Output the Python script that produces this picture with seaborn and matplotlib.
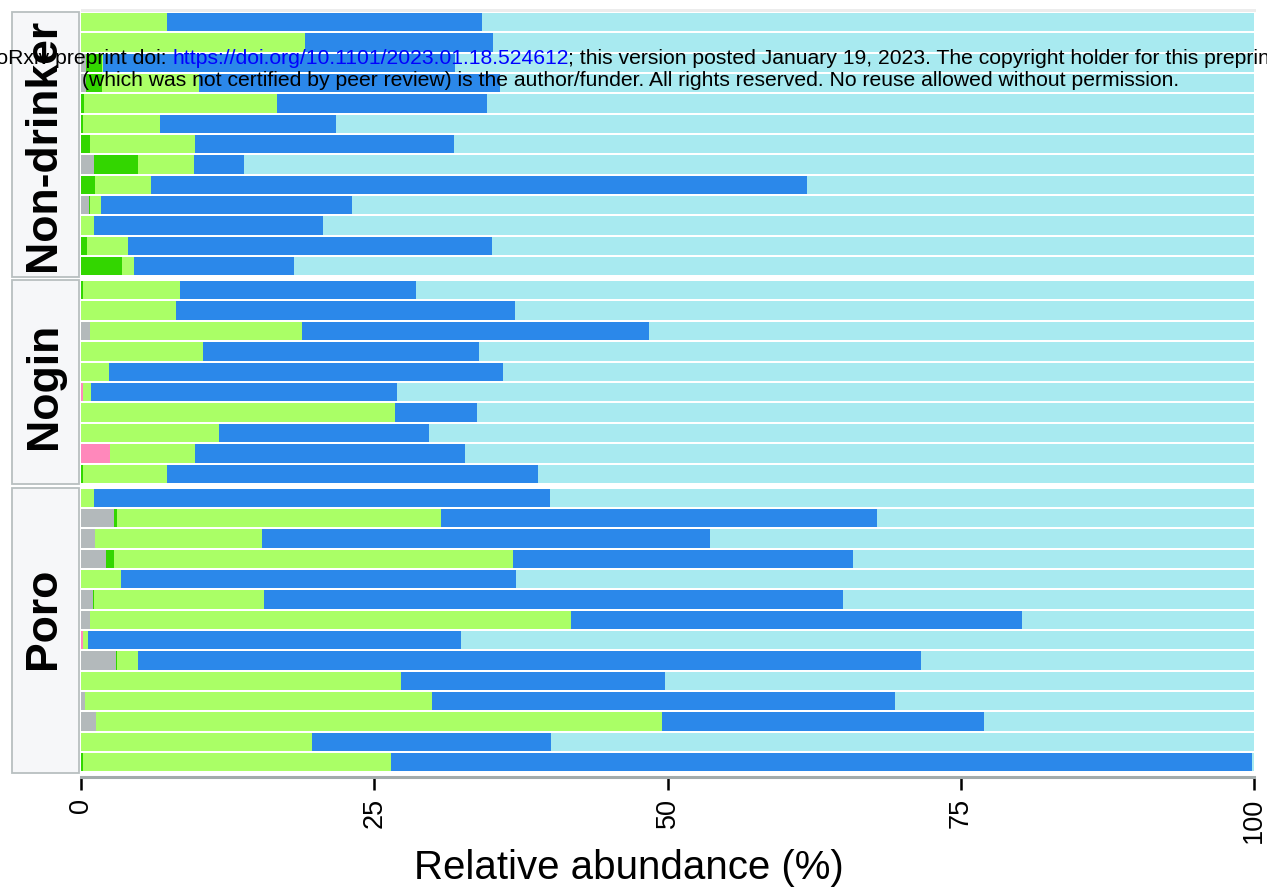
import numpy as np
import pandas as pd
import matplotlib
matplotlib.use("Agg")
import matplotlib.pyplot as plt
from matplotlib.patches import Rectangle
import seaborn as sns

sns.set_style("white")
plt.rcParams["font.family"] = ["Liberation Sans", "DejaVu Sans"]

# ---- data: relative abundance (%) per sample, stacked left to right ----
taxa = ["Other", "Taxon E", "Taxon D", "Taxon C", "Taxon B", "Taxon A"]
taxon_colors = ["#b3b9bb", "#ff88bb", "#33d600", "#aaff66", "#2b88ea", "#a8eaf0"]
groups = ["Non-drinker", "Nogin", "Poro"]

nd_other = [0, 0, 0.4, 0.4, 0, 0, 0, 1.1, 0, 0.65, 0, 0, 0]
nd_e     = [0, 0, 0, 0, 0, 0, 0, 0, 0, 0, 0, 0, 0]
nd_d     = [0, 0, 1.4, 1.4, 0.25, 0.15, 0.8, 3.8, 1.2, 0.15, 0, 0.5, 3.5]
nd_c     = [7.3, 19.1, 0.1, 8.3, 16.45, 6.55, 8.9, 4.7, 4.8, 0.9, 1.1, 3.5, 1.0]
nd_b     = [26.9, 16.0, 30.0, 25.6, 17.9, 15.0, 22.1, 4.3, 55.9, 21.4, 19.5, 31.0, 13.7]
nd_a     = [65.8, 64.9, 68.1, 64.3, 65.4, 78.3, 68.2, 86.1, 38.1, 76.9, 79.4, 65.0, 81.8]

ng_other = [0, 0, 0.8, 0, 0, 0, 0, 0, 0, 0]
ng_e     = [0, 0, 0, 0, 0, 0.15, 0, 0, 2.5, 0]
ng_d     = [0.2, 0, 0, 0, 0, 0, 0, 0, 0, 0.2]
ng_c     = [8.2, 8.1, 18.0, 10.4, 2.4, 0.7, 26.8, 11.8, 7.2, 7.1]
ng_b     = [20.2, 28.9, 29.6, 23.5, 33.6, 26.05, 7.0, 17.9, 23.0, 31.7]
ng_a     = [71.4, 63.0, 51.6, 66.1, 64.0, 73.1, 66.2, 70.3, 67.3, 61.0]

po_other = [0, 2.8, 1.2, 2.1, 0, 1.0, 0.75, 0, 3.0, 0, 0.3, 1.25, 0, 0]
po_e     = [0, 0, 0, 0, 0, 0, 0, 0.2, 0, 0, 0, 0, 0, 0]
po_d     = [0, 0.25, 0, 0.7, 0, 0.1, 0, 0, 0.1, 0, 0, 0, 0, 0.2]
po_c     = [1.1, 27.65, 14.2, 34.0, 3.45, 14.5, 41.05, 0.4, 1.8, 27.3, 29.6, 48.25, 19.7, 26.2]
po_b     = [38.9, 37.2, 38.2, 29.0, 33.65, 49.4, 38.4, 31.8, 66.7, 22.5, 39.5, 27.5, 20.4, 73.4]
po_a     = [60.0, 32.1, 46.4, 34.2, 62.9, 35.0, 19.8, 67.6, 28.4, 50.2, 30.6, 23.0, 59.9, 0.2]

group_data = {
    "Non-drinker": [nd_other, nd_e, nd_d, nd_c, nd_b, nd_a],
    "Nogin": [ng_other, ng_e, ng_d, ng_c, ng_b, ng_a],
    "Poro": [po_other, po_e, po_d, po_c, po_b, po_a],
}
x_ticks = [0, 25, 50, 75, 100]

# long table
rows = []
for g in groups:
    for t, vals in zip(taxa, group_data[g]):
        for i, v in enumerate(vals):
            rows.append({"group": g, "sample": f"{g[:2]}{i + 1:02d}", "taxon": t, "pct": v})
df = pd.DataFrame(rows)

# ---- figure layout (pixels) ----
W, H = 1267, 894
fig = plt.figure(figsize=(W / 100, H / 100), dpi=100)
fig.patch.set_facecolor("white")


def fx(px):
    return px / W


def fy(py):
    return 1 - py / H


LEFT, RIGHT = 81.0, 1254.0
bounds = {"Non-drinker": (12.0, 276.5), "Nogin": (280.0, 484.0), "Poro": (487.5, 772.5)}
strip_label_y = {"Non-drinker": 145.0, "Nogin": 386.0, "Poro": 618.0}

# thin grey band above the first panel
fig.add_artist(Rectangle((fx(LEFT), fy(12.0)), fx(1256) - fx(LEFT), 2.5 / H,
                         transform=fig.transFigure, facecolor="#ececec",
                         edgecolor="none", zorder=0))

for g in groups:
    top, bot = bounds[g]
    ax = fig.add_axes([fx(LEFT), fy(bot), fx(RIGHT) - fx(LEFT), (bot - top) / H])
    ax.set_facecolor("white")
    sub = df[df["group"] == g]
    wide = sub.pivot(index="sample", columns="taxon", values="pct")[taxa]
    samples = list(dict.fromkeys(sub["sample"]))
    wide = wide.loc[samples]
    cum = wide.cumsum(axis=1)
    # draw cumulative ends from the outermost layer inward
    for k in reversed(range(len(taxa))):
        layer = pd.DataFrame({"sample": samples, "end": cum[taxa[k]].values})
        sns.barplot(data=layer, x="end", y="sample", order=samples, orient="y",
                    color=taxon_colors[k], saturation=1, width=0.9,
                    errorbar=None, edgecolor="none", linewidth=0, ax=ax)
    n = len(samples)
    ax.set_xlim(0, 100)
    ax.set_ylim(n - 0.5, -0.5)
    ax.set_xlabel("")
    ax.set_ylabel("")
    ax.set_yticks([])
    for s in ax.spines.values():
        s.set_visible(False)
    if g == groups[-1]:
        # spine position first: moving a spine resets the ticks
        ax.spines["bottom"].set_position(("outward", 3))
        ax.spines["bottom"].set_visible(True)
        ax.spines["bottom"].set_color("#a3abab")
        ax.spines["bottom"].set_linewidth(2.2)
        ax.set_xticks(x_ticks)
        ax.set_xticklabels([str(t) for t in x_ticks])
        ax.tick_params(axis="x", length=9.5, width=1.8, color="black", pad=6,
                       labelcolor="black", labelsize=19.5, bottom=True,
                       labelrotation=90)
        for lab in ax.get_xticklabels():
            lab.set_va("top")
            lab.set_ha("center")
    else:
        ax.set_xticks([])

    # facet strip on the left
    fig.add_artist(Rectangle((fx(12), fy(bot)), fx(79) - fx(12), (bot - top) / H,
                             transform=fig.transFigure, facecolor="#f6f7f9",
                             edgecolor="#b8bfc0", linewidth=1.3))
    fig.text(fx(44), fy(strip_label_y[g]), g, rotation=90, ha="center", va="center",
             fontsize=32, fontweight="bold", color="black")

fig.text(fx(629), fy(868), "Relative abundance (%)", ha="center", va="center",
         fontsize=29, color="black")

# preprint header lines
renderer = fig.canvas.get_renderer()
line2 = ("(which was not certified by peer review) is the author/funder. "
         "All rights reserved. No reuse allowed without permission.")
t2 = fig.text(fx(631), fy(86), line2, ha="center", va="baseline", fontsize=14,
              color="black")
w2 = t2.get_window_extent(renderer).width
fs = 14 * 1108 / w2
t2.set_fontsize(fs)

url_x = 172.0
url = fig.text(fx(url_x), fy(64), "https://doi.org/10.1101/2023.01.18.524612",
               ha="left", va="baseline", fontsize=fs, color="#0000ff")
fig.text(fx(url_x), fy(64), "bioRxiv preprint doi: ", ha="right", va="baseline",
         fontsize=fs, color="black")
uw = url.get_window_extent(renderer).width
fig.text(fx(url_x + uw), fy(64),
         "; this version posted January 19, 2023. The copyright holder for this preprint",
         ha="left", va="baseline", fontsize=fs, color="black")

fig.savefig("out.png", dpi=100)
